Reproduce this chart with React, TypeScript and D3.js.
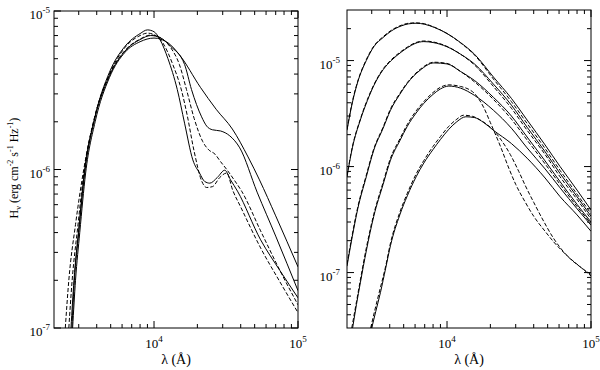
import React from 'react';
import * as d3 from 'd3';

type Pt = [number, number];

const LAMBDA_RANGE: [number, number] = [2020, 100000];
const LEFT_H_RANGE: [number, number] = [1e-7, 1e-5];
const RIGHT_H_RANGE: [number, number] = [3e-8, 3e-5];
const X_MAJOR = [1e4, 1e5];
const Y_MAJOR = [1e-7, 1e-6, 1e-5];

// left panel, wavelength (A) vs H_nu
const leftA: Pt[] = [
  [2720, 1e-7], [2850, 2e-7], [3050, 4e-7], [3350, 9.5e-7], [3900, 2.0e-6], [4900, 3.8e-6],
  [6300, 5.5e-6], [8000, 6.4e-6], [10000, 6.75e-6], [12500, 6.3e-6], [15000, 5.3e-6],
  [21000, 3.3e-6], [27000, 2.4e-6], [35000, 1.8e-6], [45000, 1.2e-6], [54000, 8.6e-7],
  [70000, 5.1e-7], [100000, 2.43e-7],
];
const leftB: Pt[] = [
  [2650, 1e-7], [2780, 2e-7], [3000, 4.2e-7], [3300, 1e-6], [3850, 2.05e-6], [4900, 3.9e-6],
  [6300, 5.6e-6], [8000, 6.6e-6], [9500, 7.0e-6], [11000, 6.8e-6], [13000, 6.0e-6],
  [16300, 4.6e-6], [18200, 3.2e-6], [21400, 2.15e-6], [23200, 1.88e-6], [25500, 1.78e-6],
  [29000, 1.75e-6], [33600, 1.63e-6], [39400, 1.37e-6], [52000, 7.2e-7], [70000, 3.8e-7],
  [100000, 1.72e-7],
];
const leftC: Pt[] = [
  [2560, 1e-7], [2700, 2e-7], [2950, 4.3e-7], [3280, 1e-6], [3850, 2.1e-6], [4900, 3.95e-6],
  [6300, 5.65e-6], [8000, 6.65e-6], [9500, 7.05e-6], [11000, 6.8e-6], [13000, 5.9e-6],
  [15000, 4.6e-6], [16800, 3.2e-6], [19000, 2.1e-6], [21800, 1.5e-6], [24000, 1.33e-6],
  [26500, 1.25e-6], [29000, 1.12e-6], [32000, 1.0e-6], [36000, 8.6e-7], [40600, 7.3e-7],
  [55000, 4.1e-7], [75000, 2.3e-7], [100000, 1.4e-7],
];
const leftD: Pt[] = [
  [2690, 1e-7], [2800, 2e-7], [3000, 4e-7], [3300, 9.5e-7], [3870, 2.1e-6], [4900, 4.1e-6],
  [6300, 6.0e-6], [8000, 7.2e-6], [9000, 7.6e-6], [10000, 7.4e-6], [11000, 6.6e-6],
  [12500, 5.0e-6], [14500, 3.2e-6], [16300, 1.96e-6], [18600, 1.15e-6], [20700, 9.5e-7],
  [22500, 8.4e-7], [24400, 8.2e-7], [27500, 8.9e-7], [31000, 9.9e-7], [34000, 8.6e-7],
  [38000, 7.3e-7], [55000, 3.6e-7], [75000, 2.3e-7], [100000, 1.55e-7],
];
const leftE: Pt[] = [
  [2420, 1e-7], [2560, 2e-7], [2850, 4.5e-7], [3250, 1e-6], [3850, 2.1e-6], [4900, 4.0e-6],
  [6300, 5.9e-6], [8000, 7.0e-6], [9000, 7.25e-6], [10000, 7.1e-6], [11500, 6.3e-6],
  [13500, 4.6e-6], [15500, 3.17e-6], [17000, 2.2e-6], [19000, 1.3e-6], [21500, 8.4e-7],
  [23200, 7.7e-7], [25500, 7.8e-7], [28600, 8.9e-7], [32000, 9.5e-7], [35200, 7.4e-7],
  [40000, 5.8e-7], [55000, 3.2e-7], [75000, 1.95e-7], [100000, 1.25e-7],
];

// right panel
const right1: Pt[] = [
  [2020, 2.2e-6], [2200, 4.0e-6], [2400, 6.3e-6], [2750, 1.0e-5], [3100, 1.35e-5], [3600, 1.65e-5],
  [4100, 1.9e-5], [4800, 2.12e-5], [5400, 2.22e-5], [6100, 2.25e-5], [7000, 2.2e-5], [8200, 2.05e-5],
  [10000, 1.8e-5], [12400, 1.48e-5], [15500, 1.15e-5], [21000, 7.0e-6], [28000, 4.4e-6],
  [36000, 2.75e-6], [48000, 1.6e-6], [61000, 1.0e-6], [80000, 6.0e-7], [100000, 3.9e-7],
];
const right1d: Pt[] = [
  [2020, 2.25e-6], [2200, 4.1e-6], [2400, 6.4e-6], [2750, 1.02e-5], [3100, 1.37e-5], [3600, 1.68e-5],
  [4100, 1.93e-5], [4800, 2.15e-5], [5400, 2.25e-5], [6100, 2.27e-5], [7000, 2.22e-5], [8200, 2.06e-5],
  [10000, 1.8e-5], [12400, 1.47e-5], [15500, 1.13e-5], [21000, 6.7e-6], [28000, 4.1e-6],
  [36000, 2.55e-6], [48000, 1.48e-6], [61000, 9.2e-7], [80000, 5.5e-7], [100000, 3.6e-7],
];
const right2: Pt[] = [
  [2020, 8e-7], [2200, 1.5e-6], [2500, 2.75e-6], [2800, 4.2e-6], [3100, 5.8e-6], [3600, 8.2e-6],
  [4100, 1.0e-5], [4800, 1.2e-5], [5300, 1.32e-5], [6000, 1.45e-5], [6900, 1.51e-5], [8000, 1.48e-5],
  [10000, 1.35e-5], [12400, 1.15e-5], [15500, 9.3e-6], [21000, 6.0e-6], [28000, 3.8e-6],
  [36000, 2.35e-6], [48000, 1.38e-6], [61000, 8.6e-7], [80000, 5.2e-7], [100000, 3.4e-7],
];
const right2d: Pt[] = [
  [2020, 8.2e-7], [2200, 1.53e-6], [2500, 2.8e-6], [2800, 4.3e-6], [3100, 5.9e-6], [3600, 8.35e-6],
  [4100, 1.02e-5], [4800, 1.22e-5], [5300, 1.34e-5], [6000, 1.47e-5], [6900, 1.53e-5], [8000, 1.5e-5],
  [10000, 1.36e-5], [12400, 1.15e-5], [15500, 9.1e-6], [21000, 5.7e-6], [28000, 3.55e-6],
  [36000, 2.2e-6], [48000, 1.3e-6], [61000, 8.0e-7], [80000, 4.9e-7], [100000, 3.2e-7],
];
const right3: Pt[] = [
  [2020, 1.15e-7], [2200, 2.2e-7], [2400, 4.0e-7], [2750, 8.0e-7], [3100, 1.43e-6], [3600, 2.3e-6],
  [4050, 3.4e-6], [4700, 4.8e-6], [5300, 6.1e-6], [6500, 8.1e-6], [8100, 9.5e-6], [10000, 9.3e-6],
  [12400, 7.9e-6], [15500, 6.5e-6], [21000, 4.5e-6], [28000, 3.0e-6], [36000, 1.9e-6],
  [48000, 1.13e-6], [61000, 7.2e-7], [80000, 4.4e-7], [100000, 3.0e-7],
];
const right3d: Pt[] = [
  [2020, 1.2e-7], [2200, 2.3e-7], [2400, 4.15e-7], [2750, 8.3e-7], [3100, 1.47e-6], [3600, 2.36e-6],
  [4050, 3.5e-6], [4700, 4.9e-6], [5300, 6.2e-6], [6500, 8.25e-6], [8100, 9.65e-6], [10000, 9.4e-6],
  [12400, 7.9e-6], [15500, 6.3e-6], [21000, 4.3e-6], [28000, 2.8e-6], [36000, 1.78e-6],
  [48000, 1.06e-6], [61000, 6.8e-7], [80000, 4.2e-7], [100000, 2.9e-7],
];
const right4: Pt[] = [
  [2210, 3e-8], [2350, 5e-8], [2500, 8e-8], [2750, 1.6e-7], [3100, 3.4e-7], [3600, 6.8e-7],
  [4050, 1.15e-6], [4700, 1.75e-6], [5300, 2.4e-6], [6100, 3.2e-6], [6900, 3.95e-6], [8000, 4.8e-6],
  [9000, 5.4e-6], [10300, 5.75e-6], [12400, 5.5e-6], [15500, 4.7e-6], [21000, 3.4e-6],
  [28000, 2.3e-6], [36000, 1.5e-6], [48000, 9.5e-7], [61000, 6.3e-7], [80000, 4.0e-7],
  [100000, 2.8e-7],
];
const right4d: Pt[] = [
  [2180, 3e-8], [2350, 5.3e-8], [2500, 8.5e-8], [2750, 1.7e-7], [3100, 3.55e-7], [3600, 7.1e-7],
  [4050, 1.2e-6], [4700, 1.82e-6], [5300, 2.5e-6], [6100, 3.35e-6], [6900, 4.1e-6], [8000, 5.0e-6],
  [9000, 5.6e-6], [10300, 5.9e-6], [12400, 5.7e-6], [14000, 5.4e-6], [15500, 4.9e-6], [18000, 3.6e-6],
  [20000, 2.6e-6], [23500, 1.55e-6], [27000, 9.5e-7], [30000, 6.8e-7], [35000, 4.6e-7],
  [40000, 3.4e-7], [48000, 2.45e-7], [55000, 1.95e-7], [68000, 1.45e-7], [85000, 1.12e-7],
  [100000, 9.3e-8],
];
const right5: Pt[] = [
  [3000, 3e-8], [3200, 4.3e-8], [3450, 6.5e-8], [3750, 1.1e-7], [4050, 1.8e-7], [4700, 3.5e-7],
  [5300, 5.3e-7], [6100, 8.0e-7], [6900, 1.08e-6], [8000, 1.45e-6], [9000, 1.8e-6], [10300, 2.25e-6],
  [11700, 2.65e-6], [13500, 2.95e-6], [15500, 2.9e-6], [18000, 2.6e-6], [21000, 2.2e-6],
  [28000, 1.65e-6], [36000, 1.2e-6], [48000, 7.8e-7], [61000, 5.2e-7], [80000, 3.5e-7],
  [100000, 2.45e-7],
];
const right5d: Pt[] = [
  [2950, 3e-8], [3150, 4.4e-8], [3400, 6.7e-8], [3750, 1.15e-7], [4050, 1.9e-7], [4700, 3.7e-7],
  [5300, 5.6e-7], [6100, 8.5e-7], [6900, 1.14e-6], [8000, 1.55e-6], [9000, 1.92e-6], [10300, 2.4e-6],
  [11700, 2.8e-6], [13000, 3.05e-6], [15000, 2.98e-6], [17000, 2.75e-6], [21000, 2.2e-6],
  [24000, 1.75e-6], [27500, 1.3e-6], [31500, 9.0e-7], [35000, 6.6e-7], [40000, 4.6e-7],
  [46000, 3.2e-7], [55000, 2.1e-7], [68000, 1.45e-7], [85000, 1.12e-7], [100000, 9.6e-8],
];

const leftCurves = [
  { data: leftA, dashed: false },
  { data: leftB, dashed: false },
  { data: leftC, dashed: true },
  { data: leftD, dashed: false },
  { data: leftE, dashed: true },
];
const rightCurves = [
  { data: right1, dashed: false },
  { data: right1d, dashed: true },
  { data: right2, dashed: false },
  { data: right2d, dashed: true },
  { data: right3, dashed: false },
  { data: right3d, dashed: true },
  { data: right4, dashed: false },
  { data: right4d, dashed: true },
  { data: right5, dashed: false },
  { data: right5d, dashed: true },
];

const FONT = '"Liberation Serif", "Times New Roman", serif';

function minorTicks(domain: [number, number]) {
  const out: number[] = [];
  const lo = Math.floor(Math.log10(domain[0]));
  const hi = Math.ceil(Math.log10(domain[1]));
  for (let d = lo; d < hi; d++) {
    for (let k = 2; k <= 9; k++) {
      const v = k * Math.pow(10, d);
      if (v > domain[0] * 1.001 && v < domain[1] * 0.999) out.push(v);
    }
  }
  return out;
}

function Pow10({ v, x, y, anchor }: { v: number; x: number; y: number; anchor: string }) {
  const e = Math.round(Math.log10(v));
  return (
    <text x={x} y={y} textAnchor={anchor} fontFamily={FONT} fontSize={13}>
      <tspan>10</tspan>
      <tspan dy={-6} fontSize={9}>{String(e)}</tspan>
    </text>
  );
}

function Panel({ id, x0, x1, y0, y1, yDomain, curves, labelGap }: any) {
  const x = d3.scaleLog().domain(LAMBDA_RANGE).range([x0, x1]);
  const y = d3.scaleLog().domain(yDomain).range([y1, y0]);
  const line = d3.line<Pt>()
    .x(d => x(d[0]))
    .y(d => y(d[1]))
    .curve(d3.curveMonotoneX);
  const xMinor = minorTicks(LAMBDA_RANGE);
  const yMinor = minorTicks(yDomain);
  const MAJ = 7, MIN = 4;

  return (
    <g>
      <defs>
        <clipPath id={id}>
          <rect x={x0} y={y0} width={x1 - x0} height={y1 - y0} />
        </clipPath>
      </defs>
      <g clipPath={`url(#${id})`} fill="none" stroke="#000" strokeWidth={1}>
        {curves.map((c: any, i: number) => (
          <path key={i} d={line(c.data) || ''} strokeDasharray={c.dashed ? '4,2' : undefined} />
        ))}
      </g>
      <g stroke="#000" strokeWidth={1}>
        {X_MAJOR.map(v => (
          <g key={'xM' + v}>
            <line x1={x(v)} x2={x(v)} y1={y1} y2={y1 - MAJ} />
            <line x1={x(v)} x2={x(v)} y1={y0} y2={y0 + MAJ} />
          </g>
        ))}
        {xMinor.map(v => (
          <g key={'xm' + v}>
            <line x1={x(v)} x2={x(v)} y1={y1} y2={y1 - MIN} />
            <line x1={x(v)} x2={x(v)} y1={y0} y2={y0 + MIN} />
          </g>
        ))}
        {Y_MAJOR.map(v => (
          <g key={'yM' + v}>
            <line x1={x0} x2={x0 + MAJ} y1={y(v)} y2={y(v)} />
            <line x1={x1} x2={x1 - MAJ} y1={y(v)} y2={y(v)} />
          </g>
        ))}
        {yMinor.map(v => (
          <g key={'ym' + v}>
            <line x1={x0} x2={x0 + MIN} y1={y(v)} y2={y(v)} />
            <line x1={x1} x2={x1 - MIN} y1={y(v)} y2={y(v)} />
          </g>
        ))}
        <rect x={x0} y={y0} width={x1 - x0} height={y1 - y0} fill="none" />
      </g>
      {X_MAJOR.map(v => (
        <Pow10 key={'xl' + v} v={v} x={x(v)} y={y1 + 20} anchor="middle" />
      ))}
      {Y_MAJOR.map(v => (
        <Pow10 key={'yl' + v} v={v} x={x0 - labelGap} y={y(v) + 8} anchor="end" />
      ))}
      <text x={(x0 + x1) / 2} y={y1 + 36} textAnchor="middle" fontFamily={FONT} fontSize={14}>
        λ (Å)
      </text>
    </g>
  );
}

export default function App() {
  return (
    <svg width={600} height={370} style={{ position: 'absolute', left: 0, top: 0, background: '#fff' }}>
      <Panel id="clipL" x0={54} x1={298} y0={11} y1={328} yDomain={LEFT_H_RANGE} curves={leftCurves} labelGap={4} />
      <Panel id="clipR" x0={347} x1={591} y0={10} y1={328} yDomain={RIGHT_H_RANGE} curves={rightCurves} labelGap={7} />
      <text transform="translate(18,168) rotate(-90)" textAnchor="middle" fontFamily={FONT} fontSize={12}>
        <tspan>H</tspan>
        <tspan dy={3} fontSize={8}>ν</tspan>
        <tspan dy={-3}> (erg cm</tspan>
        <tspan dy={-5} fontSize={8}>-2</tspan>
        <tspan dy={5}> s</tspan>
        <tspan dy={-5} fontSize={8}>-1</tspan>
        <tspan dy={5}> Hz</tspan>
        <tspan dy={-5} fontSize={8}>-1</tspan>
        <tspan dy={5}>)</tspan>
      </text>
    </svg>
  );
}
